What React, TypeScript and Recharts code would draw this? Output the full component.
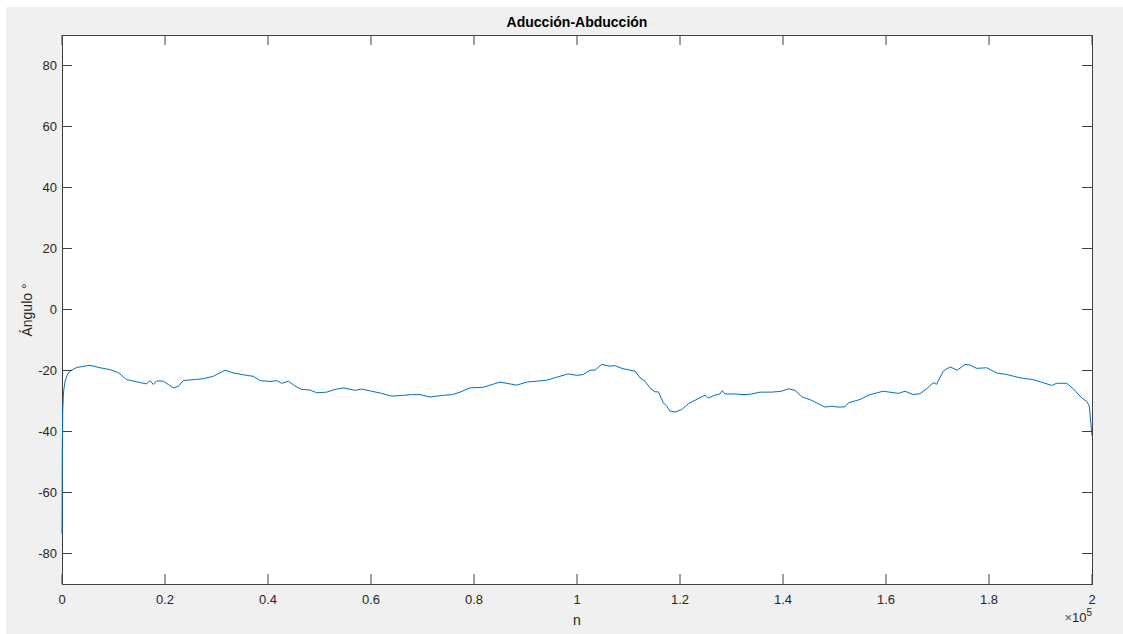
import React from 'react';
import { LineChart, Line, XAxis, YAxis } from 'recharts';

// sample index n and angle in degrees
const sampleN = [
  0, 60, 150, 300, 600, 1000, 1550, 2850, 5437, 7379, 9320, 10937, 12557, 14500,
  16440, 17087, 17734, 18380, 19670, 20650, 21612, 22580, 23553, 25495, 27437,
  29378, 31650, 33262, 35853, 37148, 38446, 40388, 41682, 42653, 43947, 45241,
  46535, 48155, 49450, 51392, 53010, 54625, 56890, 58190, 60130, 62075, 64017,
  65958, 67900, 69510, 71455, 73727, 75800, 77280, 79220, 81810, 85045, 88290,
  90230, 92170, 94113, 96055, 98320, 99940, 101230, 102523, 103495, 104790,
  106400, 107378, 108670, 110290, 111260, 112233, 113200, 114175, 115146,
  115793, 116764, 117411, 118058, 119029, 120324, 121618, 123560, 124854,
  125500, 126796, 127767, 128220, 128738, 130680, 132620, 133915, 135534,
  137800, 139740, 141034, 142330, 143625, 145567, 146860, 148155, 149450,
  150740, 152040, 152680, 154950, 156890, 159470, 162380, 163690, 165300,
  166600, 167900, 169180, 169840, 171130, 172430, 173850, 175340, 176310,
  177610, 179550, 181490, 183430, 186020, 188600, 190540, 192170, 193140,
  195080, 196370, 198000, 198970, 199480, 200000,
];

const angle = [
  -73.5, -45, -33, -27, -23.5, -21.5, -20.2, -19, -18.3, -19.1, -19.7, -20.7, -23, -23.7,
  -24.4, -23.3, -24.6, -23.4, -23.5, -24.6, -25.7, -25.2, -23.3, -23, -22.7,
  -21.9, -19.9, -20.8, -21.6, -21.9, -23.3, -23.6, -23.3, -24.2, -23.5, -25.1,
  -26.2, -26.4, -27.3, -27.1, -26.2, -25.7, -26.5, -26.1, -26.8, -27.5, -28.4,
  -28.2, -27.9, -27.9, -28.7, -28.2, -27.9, -27.1, -25.7, -25.5, -23.8, -24.8,
  -23.8, -23.5, -23.2, -22.2, -21.1, -21.6, -21.3, -19.9, -19.9, -18.0,
  -18.6, -18.4, -19.3, -19.9, -20.2, -22.4, -23.5, -25.7, -27.0,
  -27.0, -30.6, -31.7, -33.3, -33.6, -32.8, -30.9, -29.2, -28.1,
  -29.0, -28.1, -27.7, -26.6, -27.7, -27.7, -27.9, -27.7, -27.1,
  -27.1, -26.8, -26.0, -26.5, -28.6, -29.8, -30.9, -32.0, -31.7,
  -32.0, -31.9, -30.6, -29.5, -27.9, -26.8, -27.5, -26.8, -27.9,
  -27.6, -26.0, -24.0, -24.5, -20.2, -18.8, -19.9, -18.0, -18.2,
  -19.3, -19.1, -20.8, -21.3, -22.4, -23.0, -24.0, -24.9, -24.2,
  -24.2, -26.0, -29.0, -30.1, -31.7, -41.5,
];

const xTicks = [0, 20000, 40000, 60000, 80000, 100000, 120000, 140000, 160000, 180000, 200000];
const xTickLabels = ['0', '0.2', '0.4', '0.6', '0.8', '1', '1.2', '1.4', '1.6', '1.8', '2'];
const yTicks = [-80, -60, -40, -20, 0, 20, 40, 60, 80];

const data = sampleN.map((n, i) => ({ n, angle: angle[i] }));

// plot box, in px
const PLOT_LEFT = 62;
const PLOT_TOP = 35;
const PLOT_RIGHT = 1092;
const PLOT_BOTTOM = 584;
const TICK_LEN = 10;

const axisColor = '#404040';
const textColor = '#262626';
const font = 'Liberation Sans, Arial, sans-serif';

// MATLAB-style ticks: pointing inwards, mirrored on the opposite side
const XTick = (props: any) => {
  const { x, payload } = props;
  const label = xTickLabels[xTicks.indexOf(payload.value)];
  return (
    <g>
      <line x1={x} x2={x} y1={PLOT_BOTTOM} y2={PLOT_BOTTOM - TICK_LEN} stroke={axisColor} />
      <line x1={x} x2={x} y1={PLOT_TOP} y2={PLOT_TOP + TICK_LEN} stroke={axisColor} />
      <text x={x} y={PLOT_BOTTOM + 20} textAnchor="middle" fill={textColor} fontSize={13} fontFamily={font}>
        {label}
      </text>
    </g>
  );
};

const YTick = (props: any) => {
  const { y, payload } = props;
  return (
    <g>
      <line x1={PLOT_LEFT} x2={PLOT_LEFT + TICK_LEN} y1={y} y2={y} stroke={axisColor} />
      <line x1={PLOT_RIGHT} x2={PLOT_RIGHT - TICK_LEN} y1={y} y2={y} stroke={axisColor} />
      <text x={PLOT_LEFT - 5} y={y + 4.5} textAnchor="end" fill={textColor} fontSize={13} fontFamily={font}>
        {payload.value}
      </text>
    </g>
  );
};

export default function App() {
  return (
    <div style={{ position: 'absolute', left: 0, top: 0, width: 1123, height: 634, background: '#ffffff', fontFamily: font }}>
      <div style={{ position: 'absolute', left: 6, top: 7, width: 1117, height: 627, background: '#f0f0f0' }} />
      {/* axes box, under the chart so the trace draws over it */}
      <div
        style={{
          position: 'absolute',
          boxSizing: 'border-box',
          left: PLOT_LEFT - 0.5,
          top: PLOT_TOP - 0.5,
          width: PLOT_RIGHT - PLOT_LEFT + 1,
          height: PLOT_BOTTOM - PLOT_TOP + 1,
          background: '#ffffff',
          border: `1px solid ${axisColor}`,
        }}
      />
      <div style={{ position: 'absolute', left: 0, top: 0 }}>
        <LineChart width={1123} height={634} data={data} margin={{ top: PLOT_TOP, right: 1123 - PLOT_RIGHT, left: 0, bottom: 0 }}>
          <XAxis
            dataKey="n"
            type="number"
            domain={[0, 200000]}
            ticks={xTicks}
            interval={0}
            height={634 - PLOT_BOTTOM}
            tickSize={0}
            tickMargin={0}
            tickLine={false}
            axisLine={false}
            tick={<XTick />}
          />
          <YAxis
            type="number"
            domain={[-90, 90]}
            ticks={yTicks}
            interval={0}
            width={PLOT_LEFT}
            tickSize={0}
            tickMargin={0}
            tickLine={false}
            axisLine={false}
            tick={<YTick />}
          />
          <Line
            type="linear"
            dataKey="angle"
            stroke="#0072bd"
            strokeWidth={1}
            dot={false}
            isAnimationActive={false}
          />
        </LineChart>
      </div>
      <div style={{ position: 'absolute', left: PLOT_LEFT, width: PLOT_RIGHT - PLOT_LEFT, top: 14, textAlign: 'center', fontSize: 14, fontWeight: 'bold', color: '#000' }}>
        Aducción-Abducción
      </div>
      <div style={{ position: 'absolute', left: PLOT_LEFT, width: PLOT_RIGHT - PLOT_LEFT, top: 612, textAlign: 'center', fontSize: 14, color: textColor }}>
        n
      </div>
      <div style={{ position: 'absolute', left: 27, top: 310, width: 0, height: 0 }}>
        <div style={{ position: 'absolute', transform: 'translate(-50%, -50%) rotate(-90deg)', whiteSpace: 'nowrap', fontSize: 14, color: textColor }}>
          Ángulo °
        </div>
      </div>
      <div style={{ position: 'absolute', right: 1123 - PLOT_RIGHT, top: 610, fontSize: 13, color: textColor, whiteSpace: 'nowrap' }}>
        <span style={{ color: '#555' }}>×</span>10<sup style={{ fontSize: 10, verticalAlign: 'top', position: 'relative', top: -3 }}>5</sup>
      </div>
    </div>
  );
}
